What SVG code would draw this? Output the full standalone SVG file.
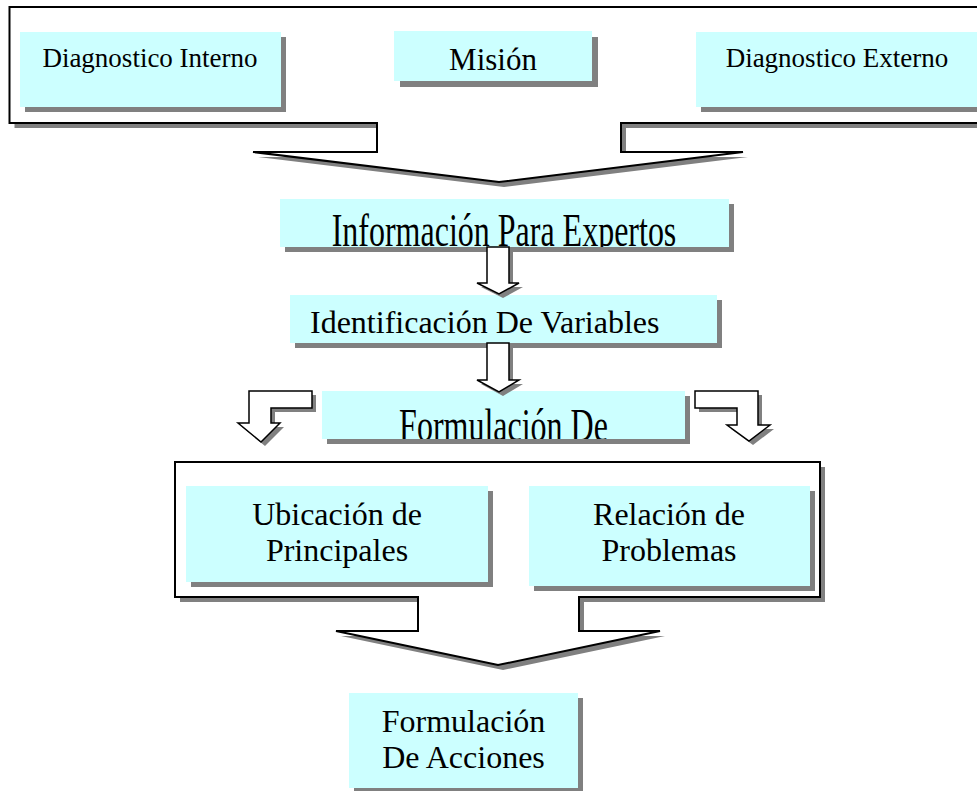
<svg xmlns="http://www.w3.org/2000/svg" width="977" height="791" viewBox="0 0 977 791">
<style>
.box{fill:#CCFFFF}
.sh{fill:#808080}
.frame{fill:#FFFFFF;stroke:#000;stroke-width:2;stroke-linejoin:miter}
.arrow{fill:#FFFFFF;stroke:#000;stroke-width:1.5}
text{font-family:"Liberation Serif","Times New Roman",serif;fill:#000}
.s27{font-size:27px}
.s31{font-size:31px}
.s32{font-size:32px}
</style>
<defs>
<clipPath id="clipInfo"><rect x="280" y="199" width="449" height="48"/></clipPath>
<clipPath id="clipForm"><rect x="322" y="391" width="363" height="48"/></clipPath>
</defs>
<rect width="977" height="791" fill="#FFFFFF"/>

<g id="frame-top">
<path class="sh" d="M14.5,12 H990 V128 H626 V157 H748 L504,187 L258,157 H382 V128 H14.5 Z"/>
<path class="frame" d="M9.5,7 H985 V123 H621 V152 H743 L499,182 L253,152 H377 V123 H9.5 Z"/>
</g>

<g id="diag-interno">
<rect class="sh" x="25" y="37" width="261" height="75"/>
<rect class="box" x="20" y="32" width="261" height="75"/>
<text class="s27" x="150" y="67" text-anchor="middle">Diagnostico Interno</text>
</g>

<g id="mision">
<rect class="sh" x="400" y="37" width="198" height="50"/>
<rect class="box" x="394" y="31" width="198" height="50"/>
<text class="s31" x="493" y="70" text-anchor="middle">Misión</text>
</g>

<g id="diag-externo">
<rect class="sh" x="701" y="37" width="290" height="75"/>
<rect class="box" x="696" y="32" width="290" height="75"/>
<text class="s27" x="837" y="67" text-anchor="middle">Diagnostico Externo</text>
</g>

<g id="info-expertos">
<rect class="sh" x="285" y="204" width="449" height="48"/>
<rect class="box" x="280" y="199" width="449" height="48"/>
<g clip-path="url(#clipInfo)">
<text class="s32" x="504" y="0" text-anchor="middle" transform="translate(0,246) scale(1,1.45)">Información Para Expertos</text>
</g>
</g>

<g id="ident-variables">
<rect class="sh" x="295" y="300" width="427" height="48"/>
<rect class="box" x="290" y="295" width="427" height="48"/>
<text class="s32" x="310" y="333">Identificación De Variables</text>
</g>

<g id="frame-bottom">
<path class="sh" d="M180,467 H825 V602 H584 V636 H665 L503,670 L341,636 H423 V602 H180 Z"/>
<path class="frame" d="M175,462 H820 V597 H579 V631 H660 L498,665 L336,631 H418 V597 H175 Z"/>
</g>

<g id="formulacion-de">
<rect class="sh" x="327" y="396" width="363" height="48"/>
<rect class="box" x="322" y="391" width="363" height="48"/>
<g clip-path="url(#clipForm)">
<text class="s32" x="503.5" y="0" text-anchor="middle" transform="translate(0,441) scale(1,1.45)">Formulación De</text>
</g>
</g>

<g id="ubicacion">
<rect class="sh" x="191" y="491" width="302" height="96"/>
<rect class="box" x="186" y="486" width="302" height="96"/>
<text class="s32" x="337" y="525" text-anchor="middle">Ubicación de</text>
<text class="s32" x="337" y="561" text-anchor="middle">Principales</text>
</g>

<g id="relacion">
<rect class="sh" x="534" y="491" width="281" height="100"/>
<rect class="box" x="529" y="486" width="281" height="100"/>
<text class="s32" x="669" y="525" text-anchor="middle">Relación de</text>
<text class="s32" x="669" y="561" text-anchor="middle">Problemas</text>
</g>

<g id="formulacion-acciones">
<rect class="sh" x="354" y="698" width="229" height="95"/>
<rect class="box" x="349" y="693" width="229" height="95"/>
<text class="s32" x="463.5" y="732" text-anchor="middle">Formulación</text>
<text class="s32" x="463.5" y="768" text-anchor="middle">De Acciones</text>
</g>

<g id="connectors">
<path class="sh" d="M491,251 H513 V287 H523 L503,298 L481,287 H491 Z"/>
<path class="arrow" d="M487,247 H509 V283 H519 L499,294 L477,283 H487 Z"/>
<path class="sh" d="M491,347 H513 V384 H523 L503,396 L481,384 H491 Z"/>
<path class="arrow" d="M487,343 H509 V380 H519 L499,392 L477,380 H487 Z"/>
<path class="sh" d="M253,395 H316 V412 H275 V427 H284 L265,446 L242,427 H253 Z"/>
<path class="arrow" d="M249,391 H312 V408 H271 V423 H280 L261,442 L238,423 H249 Z"/>
<path class="sh" d="M699,395 H762 V429 H774 L753,445 L731,429 H741 V412 H699 Z"/>
<path class="arrow" d="M695,391 H758 V425 H770 L749,441 L727,425 H737 V408 H695 Z"/>
</g>
</svg>
